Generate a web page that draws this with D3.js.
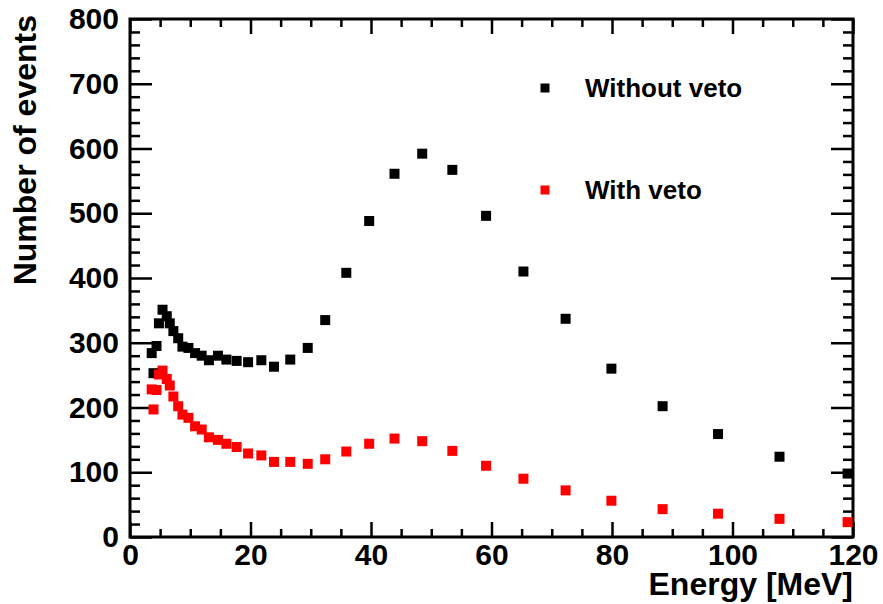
<!DOCTYPE html>
<html>
<head>
<meta charset="utf-8">
<script src="https://cdn.jsdelivr.net/npm/d3@7"></script>
<style>
  html, body { margin: 0; padding: 0; background: #fff; }
  svg { display: block; font-family: "Liberation Sans", Arial, Helvetica, sans-serif; font-weight: bold; }
  .tick text { font-size: 30px; font-weight: bold; fill: #000; }
  .tick line { stroke: #000; stroke-width: 2.5; }
</style>
</head>
<body>
<svg id="chart" width="883" height="604"></svg>
<script>
// energy bin centres [MeV], shared by both series
const energy = [3.6, 3.9, 4.4, 4.8, 5.4, 6.1, 6.6, 7.2, 8.0, 8.7, 9.7, 10.8, 11.9, 13.1, 14.6,
  16.0, 17.7, 19.6, 21.8, 23.9, 26.6, 29.5, 32.4, 35.9, 39.7, 43.9, 48.5, 53.5, 59.1, 65.3,
  72.3, 79.9, 88.4, 97.6, 107.8, 119.1];
const withoutVeto = [284, 253, 295, 330, 351, 341, 330, 318, 307, 294, 292, 284, 280, 273, 280,
  274, 272, 270, 273, 263, 274, 292, 335, 408, 488, 561, 592, 567, 496, 410,
  337, 260, 202, 159, 124, 98];
const withVeto = [228, 197, 227, 251, 257, 244, 234, 217, 202, 189, 184, 171, 166, 154, 150,
  144, 139, 129, 126, 116, 116, 113, 120, 132, 144, 152, 148, 133, 110, 90,
  72, 56, 43, 36, 28, 23];

const series = [
  { name: "Without veto", values: withoutVeto, color: "#000000" },
  { name: "With veto", values: withVeto, color: "#ff0000" }
];

const xMajor = [0, 20, 40, 60, 80, 100, 120];
const yMajor = [0, 100, 200, 300, 400, 500, 600, 700, 800];

const svg = d3.select("#chart");
const frame = { left: 130, right: 853, top: 19, bottom: 537 };
const markerSize = 10;

const x = d3.scaleLinear().domain([0, 120]).range([frame.left, frame.right]);
const y = d3.scaleLinear().domain([0, 800]).range([frame.bottom, frame.top]);

const xMinor = d3.range(0, 121, 5).filter((v) => v % 20 !== 0);
const yMinor = d3.range(0, 801, 20).filter((v) => v % 100 !== 0);

const noDomain = (g) => g.select(".domain").remove();

// bottom axis with labels
svg.append("g")
  .attr("transform", `translate(0,${frame.bottom})`)
  .call(d3.axisBottom(x).tickValues(xMajor).tickSizeInner(-15).tickSizeOuter(0).tickPadding(7).tickFormat(d3.format("d")))
  .call(noDomain);
svg.append("g")
  .attr("transform", `translate(0,${frame.bottom})`)
  .call(d3.axisBottom(x).tickValues(xMinor).tickSizeInner(-8).tickSizeOuter(0).tickFormat(""))
  .call(noDomain);

// top axis, ticks only
svg.append("g")
  .attr("transform", `translate(0,${frame.top})`)
  .call(d3.axisTop(x).tickValues(xMajor).tickSizeInner(-15).tickSizeOuter(0).tickFormat(""))
  .call(noDomain);
svg.append("g")
  .attr("transform", `translate(0,${frame.top})`)
  .call(d3.axisTop(x).tickValues(xMinor).tickSizeInner(-8).tickSizeOuter(0).tickFormat(""))
  .call(noDomain);

// left axis with labels
svg.append("g")
  .attr("transform", `translate(${frame.left},0)`)
  .call(d3.axisLeft(y).tickValues(yMajor).tickSizeInner(-22).tickSizeOuter(0).tickPadding(11).tickFormat(d3.format("d")))
  .call(noDomain);
svg.append("g")
  .attr("transform", `translate(${frame.left},0)`)
  .call(d3.axisLeft(y).tickValues(yMinor).tickSizeInner(-10).tickSizeOuter(0).tickFormat(""))
  .call(noDomain);

// right axis, ticks only
svg.append("g")
  .attr("transform", `translate(${frame.right},0)`)
  .call(d3.axisRight(y).tickValues(yMajor).tickSizeInner(-22).tickSizeOuter(0).tickFormat(""))
  .call(noDomain);
svg.append("g")
  .attr("transform", `translate(${frame.right},0)`)
  .call(d3.axisRight(y).tickValues(yMinor).tickSizeInner(-10).tickSizeOuter(0).tickFormat(""))
  .call(noDomain);

// frame
svg.append("rect")
  .attr("x", frame.left).attr("y", frame.top)
  .attr("width", frame.right - frame.left).attr("height", frame.bottom - frame.top)
  .attr("fill", "none").attr("stroke", "#000").attr("stroke-width", 3);

// data markers
const data = svg.append("g");
series.forEach((s) => {
  data.append("g")
    .selectAll("rect")
    .data(s.values.map((v, i) => ({ e: energy[i], v })))
    .join("rect")
    .attr("x", (d) => x(d.e) - markerSize / 2)
    .attr("y", (d) => y(d.v) - markerSize / 2)
    .attr("width", markerSize)
    .attr("height", markerSize)
    .attr("fill", s.color);
});

// legend
const legend = svg.append("g");
series.forEach((s, i) => {
  const ly = 88 + i * 102;
  legend.append("rect")
    .attr("x", 545 - 4.5).attr("y", ly - 4.5)
    .attr("width", 9).attr("height", 9)
    .attr("fill", s.color);
  legend.append("text")
    .attr("x", 585).attr("y", ly + 9)
    .attr("font-size", 26)
    .text(s.name);
});

// axis titles
svg.append("text")
  .attr("x", frame.right).attr("y", 595)
  .attr("text-anchor", "end")
  .attr("font-size", 32)
  .text("Energy [MeV]");

svg.append("text")
  .attr("transform", "translate(36,15) rotate(-90)")
  .attr("text-anchor", "end")
  .attr("font-size", 32)
  .text("Number of events");
</script>
</body>
</html>
